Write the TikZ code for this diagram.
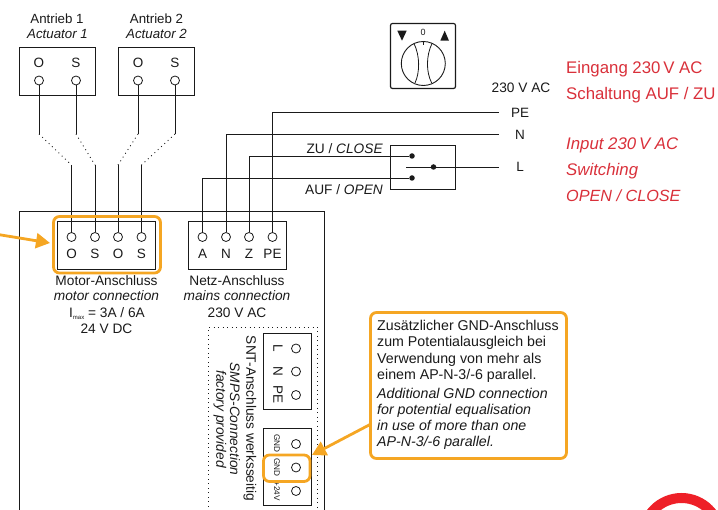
\documentclass[tikz,border=0pt]{standalone}
\usepackage{fontspec}
\setmainfont{Liberation Sans}
\usetikzlibrary{arrows.meta}
\definecolor{orng}{HTML}{F5A623}
\definecolor{redt}{HTML}{D9303A}
\definecolor{ringred}{HTML}{EE2028}
\definecolor{ink}{HTML}{1A1A1A}
\newcommand{\labsize}{\fontsize{13.7}{15}\selectfont}
\newcommand{\notesize}{\fontsize{14.2}{16}\selectfont}
\newcommand{\redsize}{\fontsize{16.8}{18}\selectfont}
\tikzset{
  wire/.style={draw=ink,line width=0.9pt},
  box/.style={draw=ink,line width=0.9pt},
  term/.style={circle,draw=ink,line width=0.8pt,fill=white,minimum size=9pt,inner sep=0pt},
  jdot/.style={circle,fill=ink,minimum size=5.5pt,inner sep=0pt},
  lab/.style={inner sep=0pt,text=ink,font=\labsize},
  blab/.style={inner sep=0pt,anchor=base,text=ink,font=\labsize},
  ilab/.style={inner sep=0pt,anchor=base,text=ink,font=\labsize\itshape},
  rlab/.style={inner sep=0pt,text=ink,font=\labsize},
  rilab/.style={inner sep=0pt,text=ink,font=\labsize\itshape},
  toplab/.style={inner sep=0pt,anchor=base,text=ink,font=\fontsize{13.3}{15}\selectfont},
  itoplab/.style={inner sep=0pt,anchor=base,text=ink,font=\fontsize{13.3}{15}\selectfont\itshape},
  plab/.style={inner sep=0pt,text=ink,font=\fontsize{13.5}{15}\selectfont},
  smalllab/.style={inner sep=0pt,text=ink,font=\fontsize{8.2}{10}\selectfont},
  dots/.style={draw=ink,line width=0.9pt,dash pattern=on 0.9pt off 3.6pt},
  hl/.style={draw=orng,line width=2.8pt,rounded corners=6pt},
  redl/.style={inner sep=0pt,anchor=base west,text=redt,font=\redsize},
  iredl/.style={inner sep=0pt,anchor=base west,text=redt,font=\redsize\itshape},
  callout/.style={inner sep=0pt,anchor=base west,text=ink,font=\notesize},
  icallout/.style={inner sep=0pt,anchor=base west,text=ink,font=\notesize\itshape},
  arr/.style={draw=orng,line width=2.8pt,-{Triangle[length=14pt,width=15pt]}}
}
\begin{document}
\begin{tikzpicture}[x=1pt,y=-1pt]
\useasboundingbox (0,0) rectangle (718,510);
\clip (0,0) rectangle (718,510);
% red ring
\draw[ringred,line width=10pt] (681.5,536.5) circle (38.5);
% actuators
\path[box] (19,47.5) rectangle (95.5,95.5);
\path[box] (118,47.5) rectangle (194.5,95.5);
\node[toplab] at (57,23.8) {Antrieb 1};
\node[itoplab] at (57.5,38.6) {Actuator 1};
\node[toplab] at (156.5,23.8) {Antrieb 2};
\node[itoplab] at (156.5,38.6) {Actuator 2};
\node[plab] at (39,63) {O};
\node[plab] at (76,63) {S};
\node[plab] at (138,63) {O};
\node[plab] at (175,63) {S};
\node[term] (a1) at (39,80.5) {};
\node[term] (a2) at (76,80.5) {};
\node[term] (a3) at (138,80.5) {};
\node[term] (a4) at (175,80.5) {};
% main box
\draw[box] (19.5,520) -- (19.5,211) -- (324.5,211) -- (324.5,520);
% terminal boxes
\path[box] (57.5,221.5) rectangle (155.5,269.5);
\path[box] (188.5,221.5) rectangle (286.5,269.5);
\node[term] (m1) at (71.5,237) {};
\node[term] (m2) at (95,237) {};
\node[term] (m3) at (118,237) {};
\node[term] (m4) at (141.5,237) {};
\node[term] (n1) at (202.5,237) {};
\node[term] (n2) at (226,237) {};
\node[term] (n3) at (249,237) {};
\node[term] (n4) at (272.5,237) {};
\node[plab] at (71.5,254) {O};
\node[plab] at (95,254) {S};
\node[plab] at (118,254) {O};
\node[plab] at (141.5,254) {S};
\node[plab] at (202.5,254) {A};
\node[plab] at (226,254) {N};
\node[plab] at (249,254) {Z};
\node[plab] at (272.5,254) {PE};
% motor wires
\coordinate (b1) at (39,134); \coordinate (b2) at (76,134);
\coordinate (b3) at (138,134); \coordinate (b4) at (175,134);
\coordinate (c1) at (71.5,165); \coordinate (c2) at (95,165);
\coordinate (c3) at (118,165); \coordinate (c4) at (141.5,165);
\foreach \i in {1,2,3,4}{
  \draw[wire] (a\i) -- (b\i);
  \draw[dots] (b\i) -- (c\i);
  \draw[wire] (c\i) -- (m\i);
}
% switch box
\path[box] (390,145.5) rectangle (455,189);
\node[jdot] (s1) at (412,156) {};
\node[jdot] (s2) at (412,178) {};
\node[jdot] (s3) at (433.5,167) {};
\coordinate (sw) at (406,167);
\coordinate (epe) at (499,112.5);
\coordinate (en) at (499,134.5);
\coordinate (el) at (499,167);
\draw[wire] (sw) -- (s3) -- (el);
\draw[wire] (n4) |- (epe);
\draw[wire] (n2) |- (en);
\draw[wire] (n3) |- (s1);
\draw[wire] (n1) |- (s2);
\node[plab] at (520,113) {PE};
\node[plab] at (520,135) {N};
\node[plab] at (520,167) {L};
\node[blab] at (521,92.3) {230 V AC};
\node[blab,anchor=base east] at (383,153.3) {ZU / \textit{CLOSE}};
\node[blab,anchor=base east] at (383,195) {AUF / \textit{OPEN}};
% rotary switch
\draw[draw=ink,line width=1.2pt,rounded corners=2pt] (390.5,23.5) rectangle (455.5,88.5);
\node[inner sep=0pt,text=ink,font=\fontsize{9}{9}\selectfont] at (423,32) {0};
\fill[ink] (397.3,30.7) -- (406.7,30.7) -- (402,40.7) -- cycle;
\fill[ink] (440.3,40.7) -- (449,40.7) -- (444.7,30.7) -- cycle;
\draw[ink,line width=0.9pt] (423.3,63.5) circle (22);
\draw[ink,line width=0.7pt] (423.3,41) -- (423.3,45);
\draw[ink,line width=0.8pt] (414,43.5) .. controls (420,56) and (420,72) .. (415,83);
\draw[ink,line width=0.8pt] (432,43.5) .. controls (426,56) and (426,72) .. (431.7,83);
% red texts
\node[redl] at (566,73.3) {Eingang 230\,V AC};
\node[redl] at (566,99.3) {Schaltung AUF / ZU};
\node[iredl] at (566,150) {Input 230\,V AC};
\node[iredl] at (566,175.7) {Switching};
\node[iredl,font=\fontsize{16.2}{18}\selectfont\itshape] at (566,201.7) {OPEN / CLOSE};
% motor labels
\node[blab] at (106.5,286) {Motor-Anschluss};
\node[ilab] at (106.5,300.9) {motor connection};
\node[blab] at (107,317.3) {I\raisebox{-2pt}{\fontsize{6}{6}\selectfont max} = 3A / 6A};
\node[blab] at (106.5,334) {24 V DC};
\node[blab] at (237,286) {Netz-Anschluss};
\node[ilab] at (237,300.9) {mains connection};
\node[blab] at (237,317.3) {230 V AC};
% highlights
\path[hl] (53.5,216.5) rectangle (160.5,273);
\coordinate (leftend) at (-2,234.5);
\coordinate (tip1) at (50,243);
\draw[arr] (leftend) -- (tip1);
% SMPS area
\draw[dots] (208,520) -- (208,327.5) -- (317.5,327.5) -- (317.5,520);
\path[box] (263,333) rectangle (311,409.5);
\path[box] (263,428.5) rectangle (311,505);
\node[term] at (296,348.5) {};
\node[term] at (296,371.5) {};
\node[term] at (296,395) {};
\node[term] at (296,444) {};
\node[term] at (296,467.5) {};
\node[term] at (296,491) {};
\node[plab,rotate=-90] at (278,348.5) {L};
\node[plab,rotate=-90] at (278,371.5) {N};
\node[plab,rotate=-90] at (278,395) {PE};
\node[smalllab,rotate=-90] at (277,443.5) {GND};
\node[smalllab,rotate=-90] at (277,467.5) {GND};
\node[smalllab,rotate=-90] at (277,491) {+24V};
\node[rlab,rotate=-90] at (250,418.5) {SNT-Anschluss werksseitig};
\node[rilab,rotate=-90] at (235,419) {SMPS-Connection};
\node[rilab,rotate=-90] at (220,419) {factory provided};
\path[hl] (263.5,455) rectangle (310,481.5);
% callout
\node[draw=orng,line width=2.8pt,rounded corners=6pt,fill=white,minimum width=196pt,minimum height=146pt,inner sep=0pt] (note) at (468.5,385.5) {};
\coordinate (tip2) at (312,455);
\draw[arr] (371,424) -- (tip2);
\node[callout] at (377,331) {Zusätzlicher GND-Anschluss};
\node[callout] at (377,347) {zum Potentialausgleich bei};
\node[callout] at (377,363.2) {Verwendung von mehr als};
\node[callout] at (377,379.3) {einem AP-N-3/-6 parallel.};
\node[icallout] at (377,399) {Additional GND connection};
\node[icallout] at (377,415) {for potential equalisation};
\node[icallout] at (377,430.8) {in use of more than one};
\node[icallout] at (377,447) {AP-N-3/-6 parallel.};
\end{tikzpicture}
\end{document}
